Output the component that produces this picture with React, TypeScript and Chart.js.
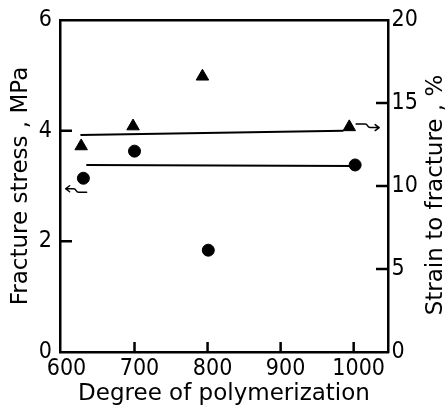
import React, { useEffect, useRef } from "react";
import { Chart, registerables } from "chart.js";

Chart.register(...registerables);

// ---- data ----
const xTicks = [600, 700, 800, 900, 1000];
const circleDP = [630, 700, 801, 1002];
const fractureStress = [3.14, 3.63, 1.84, 3.38];
const triangleDP = [627, 698, 793, 994];
const strainToFracture = [12.4, 13.6, 16.6, 13.55];
const stressLineDP = [634, 1000];
const stressLine = [3.38, 3.36];
const strainLineDP = [626, 986];
const strainLine = [13.07, 13.33];
// arrow anchors (data units): [x, y]
const leftArrowAnchor = [605.7, 2.95]; // points to left axis
const rightArrowAnchor = [1003.4, 13.73]; // points to right axis

const xTitle = "Degree of polymerization";
const yTitle = "Fracture stress , MPa";
const y2Title = "Strain to fracture , %";

const tickFont = {
  family: "'Liberation Sans Narrow', 'DejaVu Sans Condensed', 'Liberation Sans', sans-serif",
  size: 23,
  lineHeight: 1,
};
const titleFont = { family: "'DejaVu Sans', sans-serif", size: 23, lineHeight: 1 };

const pts = (xs: number[], ys: number[]) => xs.map((x, i) => ({ x, y: ys[i] }));

const annotationPlugin = {
  id: "annot",
  afterDraw(chart: any) {
    const ctx = chart.ctx;
    const xs = chart.scales.x;
    const yl = chart.scales.y;
    const yr = chart.scales.y2;
    const ca = chart.chartArea;
    ctx.save();
    // inward tick marks, placed by the scales
    ctx.strokeStyle = "#000";
    ctx.lineWidth = 2.5;
    ctx.lineCap = "butt";
    ctx.beginPath();
    xs.ticks.forEach((t: any) => {
      if (t.value <= xs.min + 3) return;
      const p = xs.getPixelForValue(t.value);
      ctx.moveTo(p, ca.bottom);
      ctx.lineTo(p, ca.bottom - 10);
    });
    yl.ticks.forEach((t: any) => {
      if (t.value <= yl.min || t.value >= yl.max) return;
      const p = yl.getPixelForValue(t.value);
      ctx.moveTo(ca.left, p);
      ctx.lineTo(ca.left + 12, p);
    });
    yr.ticks.forEach((t: any) => {
      if (t.value <= yr.min || t.value >= yr.max) return;
      const p = yr.getPixelForValue(t.value);
      ctx.moveTo(ca.right, p);
      ctx.lineTo(ca.right - 12, p);
    });
    ctx.stroke();

    ctx.lineWidth = 1.5;
    ctx.lineCap = "round";
    ctx.lineJoin = "round";
    // left arrow (toward left axis)
    let px = xs.getPixelForValue(leftArrowAnchor[0]);
    let py = yl.getPixelForValue(leftArrowAnchor[1]);
    ctx.beginPath();
    ctx.moveTo(px, py);
    ctx.lineTo(px + 8, py);
    ctx.bezierCurveTo(px + 11, py, px + 10, py + 3.5, px + 13, py + 3.5);
    ctx.lineTo(px + 21, py + 3.5);
    ctx.moveTo(px + 4, py - 3);
    ctx.lineTo(px, py);
    ctx.lineTo(px + 4, py + 3);
    ctx.stroke();
    // right arrow (toward right axis)
    px = xs.getPixelForValue(rightArrowAnchor[0]);
    py = yr.getPixelForValue(rightArrowAnchor[1]);
    ctx.beginPath();
    ctx.moveTo(px, py);
    ctx.lineTo(px + 9, py);
    ctx.bezierCurveTo(px + 12, py, px + 11, py + 3.5, px + 14, py + 3.5);
    ctx.lineTo(px + 23, py + 3.5);
    ctx.moveTo(px + 19, py + 0.5);
    ctx.lineTo(px + 23, py + 3.5);
    ctx.lineTo(px + 19, py + 6.5);
    ctx.stroke();
    // right axis title, reading bottom to top
    ctx.translate(chart.width - 3, (ca.top + ca.bottom) / 2 + 9);
    ctx.rotate(-Math.PI / 2);
    ctx.fillStyle = "#000";
    ctx.font = "23px 'DejaVu Sans', sans-serif";
    ctx.textAlign = "center";
    ctx.textBaseline = "alphabetic";
    ctx.fillText(y2Title, 0, 0);
    ctx.restore();
  },
};

const plain = (v: any) => String(v);

export default function App() {
  const ref = useRef<HTMLCanvasElement | null>(null);
  useEffect(() => {
    if (!ref.current) return;
    const border = { display: true, color: "#000", width: 2.5 };
    const chart = new Chart(ref.current, {
      type: "scatter",
      data: {
        datasets: [
          {
            label: "Fracture stress",
            data: pts(circleDP, fractureStress),
            yAxisID: "y",
            pointStyle: "circle",
            pointRadius: 6,
            backgroundColor: "#000",
            borderColor: "#000",
            borderWidth: 1,
          },
          {
            label: "Strain to fracture",
            data: pts(triangleDP, strainToFracture),
            yAxisID: "y2",
            pointStyle: "triangle",
            pointRadius: 7.2,
            backgroundColor: "#000",
            borderColor: "#000",
            borderWidth: 1,
          },
          {
            type: "line",
            label: "stress fit",
            data: pts(stressLineDP, stressLine),
            yAxisID: "y",
            showLine: true,
            pointRadius: 0,
            borderColor: "#000",
            borderWidth: 2,
            fill: false,
          },
          {
            type: "line",
            label: "strain fit",
            data: pts(strainLineDP, strainLine),
            yAxisID: "y2",
            showLine: true,
            pointRadius: 0,
            borderColor: "#000",
            borderWidth: 2,
            fill: false,
          },
        ] as any,
      },
      options: {
        animation: false,
        responsive: false,
        devicePixelRatio: 1,
        layout: { padding: { top: 20, left: 0, right: 0, bottom: 0 }, autoPadding: false } as any,
        plugins: { legend: { display: false }, tooltip: { enabled: false } },
        scales: {
          x: {
            type: "linear",
            position: "bottom",
            min: 598,
            max: 1047,
            afterBuildTicks: (s: any) => {
              s.ticks = xTicks.map((v) => ({ value: v }));
            },
            ticks: {
              font: tickFont,
              color: "#000",
              padding: 6,
              labelOffset: 5,
              autoSkip: false,
              maxRotation: 0,
              callback: plain,
            },
            grid: { drawOnChartArea: false, drawTicks: false },
            border,
            title: { display: true, text: xTitle, font: titleFont, color: "#000", padding: 0 },
            afterFit: (s: any) => {
              s.height = 54;
              s.paddingLeft = 0;
              s.paddingRight = 0;
            },
          },
          x2: {
            type: "linear",
            position: "top",
            min: 598,
            max: 1047,
            ticks: { display: false },
            grid: { drawOnChartArea: false, drawTicks: false },
            border,
            afterFit: (s: any) => {
              s.height = 0;
              s.paddingLeft = 0;
              s.paddingRight = 0;
            },
          },
          y: {
            type: "linear",
            position: "left",
            min: 0,
            max: 6,
            ticks: { stepSize: 2, font: tickFont, color: "#000", padding: 8, callback: plain },
            grid: { drawOnChartArea: false, drawTicks: false },
            border,
            title: {
              display: true,
              text: yTitle,
              font: titleFont,
              color: "#000",
              padding: { top: 10, bottom: 0 },
            },
            afterFit: (s: any) => {
              s.width = 60;
              s.paddingTop = 0;
              s.paddingBottom = 0;
            },
          },
          y2: {
            type: "linear",
            position: "right",
            min: 0,
            max: 20,
            ticks: { stepSize: 5, font: tickFont, color: "#000", padding: 3.5, callback: plain },
            grid: { drawOnChartArea: false, drawTicks: false },
            border,
            title: { display: false },
            afterFit: (s: any) => {
              s.width = 57;
              s.paddingTop = 0;
              s.paddingBottom = 0;
            },
          },
        },
      } as any,
      plugins: [annotationPlugin],
    });
    return () => chart.destroy();
  }, []);
  return (
    <div style={{ position: "fixed", left: 0, top: 0, width: 445, height: 406, background: "#fff" }}>
      <canvas ref={ref} width={445} height={406} style={{ display: "block" }} />
    </div>
  );
}
